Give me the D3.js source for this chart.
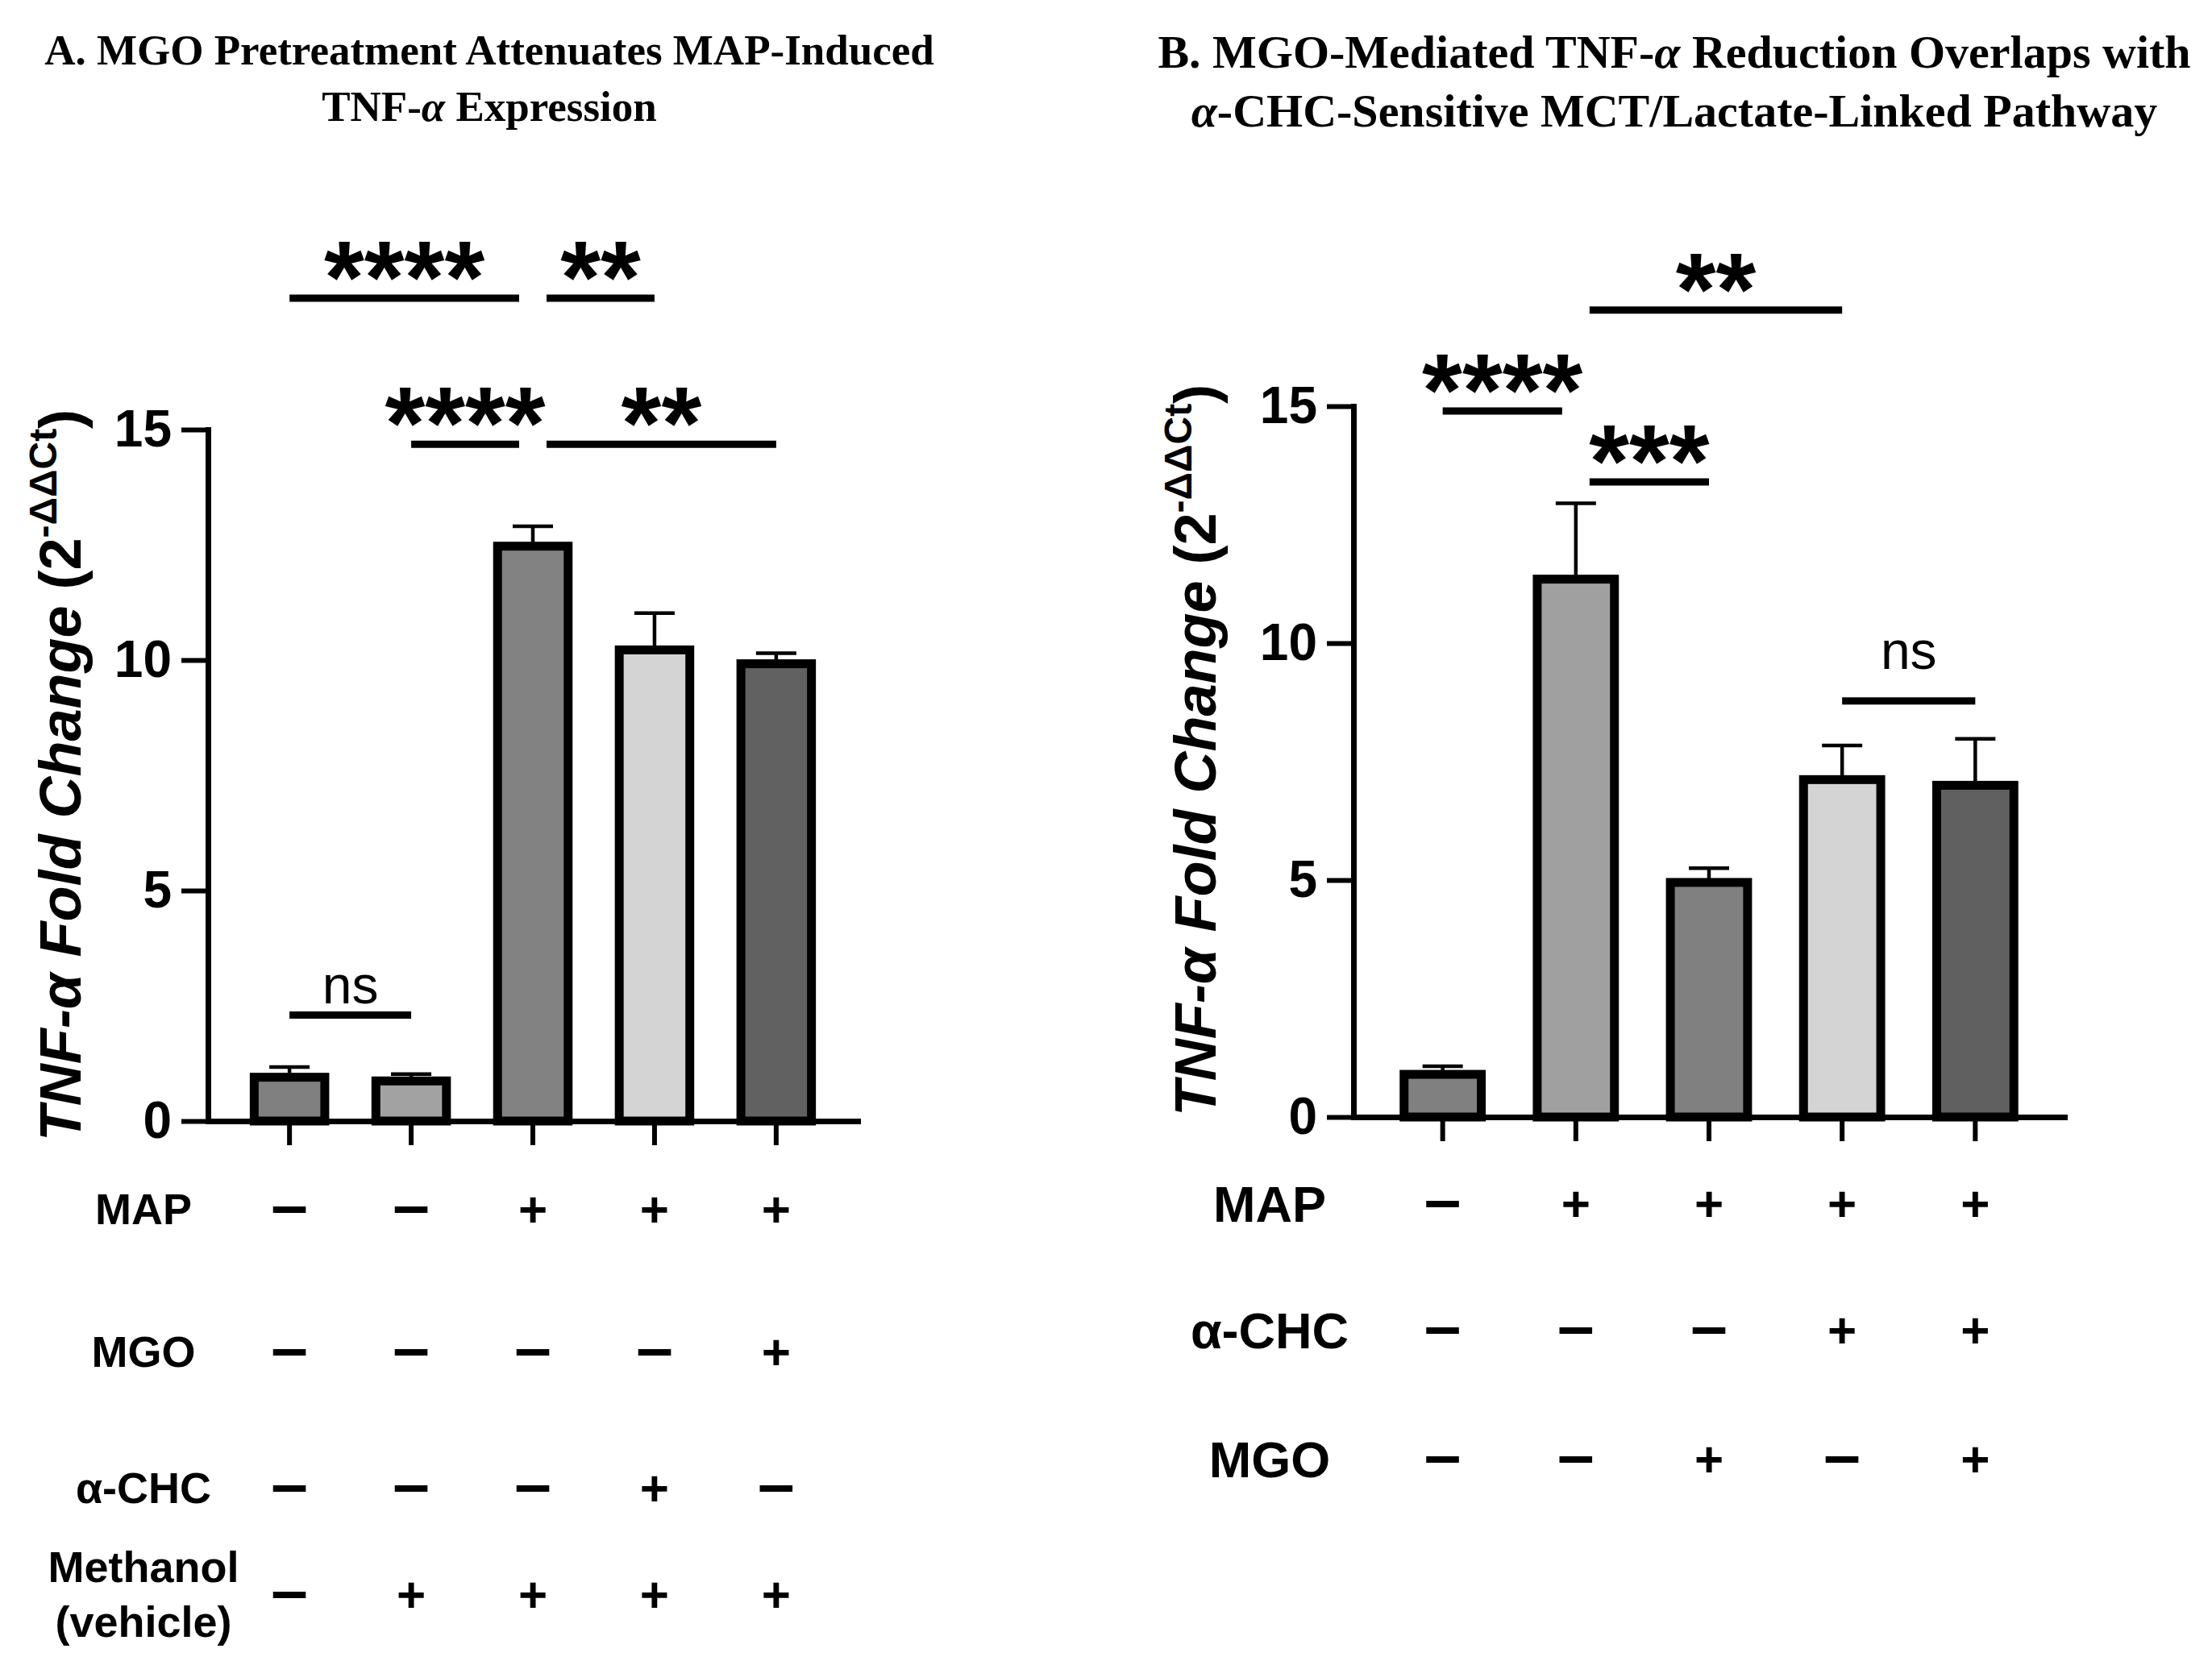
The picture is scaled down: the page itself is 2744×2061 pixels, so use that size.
<!DOCTYPE html>
<html>
<head>
<meta charset="utf-8">
<script src="https://cdn.jsdelivr.net/npm/d3@7"></script>
<style>
  body { margin: 0; background: #fff; }
  svg { display: block; }
  .sans { font-family: "Liberation Sans", Arial, sans-serif; }
  .serif { font-family: "Liberation Serif", "Times New Roman", serif; }
</style>
</head>
<body>
<div id="chart"></div>
<script>
// ---- data ----
const groups = ["g1", "g2", "g3", "g4", "g5"];
const yTicks = [0, 5, 10, 15];

const titleA = ["A. MGO Pretreatment Attenuates MAP-Induced", "TNF-α Expression"];
const meansA = [0.95, 0.87, 12.47, 10.22, 9.92];
const semA = [0.22, 0.15, 0.43, 0.80, 0.23];
const treatmentsA = ["MAP", "MGO", "α-CHC", "Methanol\n(vehicle)"];
const signsA = [
  ["-", "-", "+", "+", "+"],
  ["-", "-", "-", "-", "+"],
  ["-", "-", "-", "+", "-"],
  ["-", "+", "+", "+", "+"]
];
const comparisonsA = [
  {from: 0, to: 2, label: "****", level: 17.85, trim: "end"},
  {from: 2, to: 3, label: "**", level: 17.85, trim: "start"},
  {from: 1, to: 2, label: "****", level: 14.68, trim: "end"},
  {from: 2, to: 4, label: "**", level: 14.68, trim: "start"},
  {from: 0, to: 1, label: "ns", level: 2.3, trim: "none"}
];

const titleB = ["B. MGO-Mediated TNF-α Reduction Overlaps with", "α-CHC-Sensitive MCT/Lactate-Linked Pathway"];
const meansB = [0.9, 11.35, 4.95, 7.12, 7.0];
const semB = [0.17, 1.6, 0.3, 0.72, 0.98];
const treatmentsB = ["MAP", "α-CHC", "MGO"];
const signsB = [
  ["-", "+", "+", "+", "+"],
  ["-", "-", "-", "+", "+"],
  ["-", "-", "+", "-", "+"]
];
const comparisonsB = [
  {from: 0, to: 1, label: "****", level: 14.9, trim: "end"},
  {from: 1, to: 2, label: "***", level: 13.4, trim: "start"},
  {from: 1, to: 3, label: "**", level: 17.03, trim: "start"},
  {from: 3, to: 4, label: "ns", level: 8.78, trim: "none"}
];

// ---- styling / layout ----
const fills = ["#808080", "#a2a2a2", "#828282", "#d4d4d4", "#616161"];
const fillsB = ["#808080", "#a0a0a0", "#808080", "#d4d4d4", "#606060"];

const width = 2744;
const height = 2061;

const panels = [
  {
    title: titleA, means: meansA, sem: semA, fills: fills,
    treatments: treatmentsA, signs: signsA, comparisons: comparisonsA,
    xRange: [258, 1064], yRange: [1391, 533],
    titleX: 607, titleYs: [80, 150], titleFont: 53,
    labelX: 100, labelY: 962,
    rowLabelX: 178, rowYs: [1500, 1677, 1846, 1978], rowFont: 54,
    nsGap: 14
  },
  {
    title: titleB, means: meansB, sem: semB, fills: fillsB,
    treatments: treatmentsB, signs: signsB, comparisons: comparisonsB,
    xRange: [1679, 2561], yRange: [1386, 504],
    titleX: 2077, titleYs: [84, 157], titleFont: 58,
    labelX: 1508, labelY: 931,
    rowLabelX: 1575, rowYs: [1493, 1650, 1810], rowFont: 63,
    nsGap: 40
  }
];

const svg = d3.select("#chart")
  .append("svg")
  .attr("width", width)
  .attr("height", height)
  .attr("viewBox", `0 0 ${width} ${height}`);

svg.append("rect").attr("width", width).attr("height", height).attr("fill", "#fff");

panels.forEach((p) => drawPanel(svg.append("g"), p));

function drawPanel(g, p) {
  const x = d3.scaleBand()
    .domain(groups)
    .range(p.xRange)
    .paddingInner(0.42)
    .paddingOuter(0.38);

  const y = d3.scaleLinear().domain([0, 15]).range(p.yRange);
  const cx = (i) => x(groups[i]) + x.bandwidth() / 2;

  // title lines, greek alpha set in italic
  p.title.forEach((line, li) => {
    const t = g.append("text")
      .attr("class", "serif")
      .attr("x", p.titleX)
      .attr("y", p.titleYs[li])
      .attr("text-anchor", "middle")
      .attr("font-weight", "bold")
      .attr("font-size", p.titleFont);
    line.split("α").forEach((part, k, arr) => {
      if (part) t.append("tspan").text(part);
      if (k < arr.length - 1) t.append("tspan").attr("font-style", "italic").text("α");
    });
  });

  // bars
  g.selectAll("rect.bar")
    .data(p.means)
    .join("rect")
    .attr("class", "bar")
    .attr("x", (d, i) => x(groups[i]))
    .attr("width", x.bandwidth())
    .attr("y", (d) => y(d))
    .attr("height", (d) => y(0) - y(d))
    .attr("fill", (d, i) => p.fills[i])
    .attr("stroke", "#000")
    .attr("stroke-width", 11);

  // upper error bars
  const err = g.selectAll("g.err")
    .data(p.means.map((m, i) => ({m, s: p.sem[i], i})))
    .join("g")
    .attr("class", "err")
    .attr("stroke", "#000")
    .attr("stroke-width", 4.5);
  err.append("line")
    .attr("x1", (d) => cx(d.i)).attr("x2", (d) => cx(d.i))
    .attr("y1", (d) => y(d.m) - 5).attr("y2", (d) => y(d.m + d.s));
  err.append("line")
    .attr("x1", (d) => cx(d.i) - 25).attr("x2", (d) => cx(d.i) + 25)
    .attr("y1", (d) => y(d.m + d.s)).attr("y2", (d) => y(d.m + d.s));

  // axes
  const yAxis = g.append("g")
    .attr("transform", `translate(${p.xRange[0]},0)`)
    .call(d3.axisLeft(y).tickValues(yTicks).tickSize(33).tickSizeOuter(0).tickPadding(12));
  yAxis.select(".domain").attr("stroke-width", 7).attr("stroke-linecap", "square");
  yAxis.selectAll(".tick line").attr("stroke-width", 6);
  yAxis.selectAll(".tick text")
    .attr("class", "sans")
    .attr("font-size", 64)
    .attr("font-weight", "bold")
    .attr("fill", "#000");

  const xAxis = g.append("g")
    .attr("transform", `translate(0,${y(0)})`)
    .call(d3.axisBottom(x).tickSize(30).tickSizeOuter(0).tickFormat(""));
  xAxis.select(".domain").attr("stroke-width", 7).attr("stroke-linecap", "square");
  xAxis.selectAll(".tick line").attr("stroke-width", 6);

  // y-axis title
  const yl = g.append("text")
    .attr("class", "sans")
    .attr("transform", `translate(${p.labelX},${p.labelY}) rotate(-90)`)
    .attr("text-anchor", "middle")
    .attr("font-weight", "bold")
    .attr("font-size", 72);
  yl.append("tspan").attr("font-style", "italic").text("TNF-α Fold Change ");
  yl.append("tspan").text("(2");
  yl.append("tspan").attr("font-size", 48).attr("dy", -30).text("-ΔΔCt");
  yl.append("tspan").attr("dy", 30).text(")");

  // significance brackets
  const gap = 17;
  const comp = g.selectAll("g.comp")
    .data(p.comparisons)
    .join("g")
    .attr("class", "comp");
  const xs = (d) => cx(d.from) + (d.trim === "start" ? gap : 0);
  const xe = (d) => cx(d.to) - (d.trim === "end" ? gap : 0);
  comp.append("line")
    .attr("x1", xs).attr("x2", xe)
    .attr("y1", (d) => y(d.level)).attr("y2", (d) => y(d.level))
    .attr("stroke", "#000")
    .attr("stroke-width", 9);
  comp.append("text")
    .attr("class", "sans")
    .attr("text-anchor", "middle")
    .attr("x", (d) => (xs(d) + xe(d)) / 2)
    .attr("y", (d) => d.label === "ns" ? y(d.level) - p.nsGap : y(d.level) + 18)
    .attr("font-size", (d) => d.label === "ns" ? 66 : 128)
    .attr("font-weight", (d) => d.label === "ns" ? "normal" : "bold")
    .text((d) => d.label);

  // treatment table
  p.treatments.forEach((name, r) => {
    const ry = p.rowYs[r];
    const lines = name.split("\n");
    const lab = g.append("text")
      .attr("class", "sans")
      .attr("text-anchor", "middle")
      .attr("font-weight", "bold")
      .attr("font-size", p.rowFont);
    lines.forEach((ln, k) => {
      const off = (k - (lines.length - 1) / 2) * 68;
      lab.append("tspan")
        .attr("x", p.rowLabelX)
        .attr("y", ry + off)
        .attr("dy", "0.36em")
        .text(ln);
    });

    g.selectAll(null)
      .data(p.signs[r])
      .join("text")
      .attr("class", "sans")
      .attr("text-anchor", "middle")
      .attr("font-weight", "bold")
      .attr("x", (d, i) => cx(i))
      .attr("y", ry)
      .attr("font-size", (d) => d === "+" ? 62 : 82)
      .attr("dy", (d) => d === "+" ? "0.355em" : "0.28em")
      .text((d) => d === "+" ? "+" : "–");
  });
}
</script>
</body>
</html>
